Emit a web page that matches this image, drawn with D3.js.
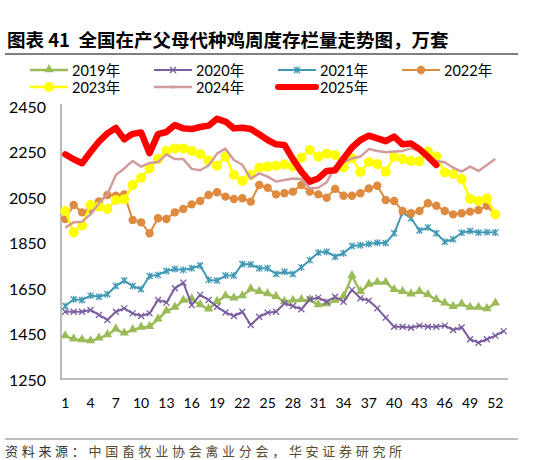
<!DOCTYPE html>
<html>
<head>
<meta charset="utf-8">
<script src="https://cdnjs.cloudflare.com/ajax/libs/d3/7.8.5/d3.min.js"></script>
<style>
  html, body { margin: 0; padding: 0; background: #fff; }
  svg { display: block; }
</style>
</head>
<body>
<svg id="chart" width="541" height="460"></svg>
<script>
// 数据 (万套), 周 1..53
const weeks = d3.range(1, 54);
const xTickLabels = [1, 4, 7, 10, 13, 16, 19, 22, 25, 28, 31, 34, 37, 40, 43, 46, 49, 52];
const yTickLabels = [1250, 1450, 1650, 1850, 2050, 2250, 2450];

const s2019 = [1443,1429,1426,1421,1433,1448,1473,1455,1470,1481,
               1484,1517,1553,1569,1599,1605,1580,1561,1594,1619,
               1609,1619,1649,1638,1628,1616,1594,1599,1602,1602,
               1580,1584,1599,1616,1707,1638,1670,1678,1678,1646,
               1638,1627,1638,1624,1602,1587,1572,1583,1568,1568,
               1562,1587];
const s2020 = [1550,1550,1550,1558,1536,1514,1550,1565,1543,1531,
               1543,1602,1590,1653,1678,1580,1624,1602,1572,1547,
               1531,1550,1492,1528,1546,1550,1587,1575,1561,1605,
               1612,1594,1616,1594,1646,1609,1599,1565,1524,1484,
               1484,1480,1489,1484,1484,1489,1470,1481,1429,1414,
               1429,1445,1465];
const s2021 = [1575,1605,1602,1621,1616,1627,1663,1687,1663,1649,
               1707,1712,1729,1738,1734,1741,1753,1690,1687,1709,
               1709,1760,1758,1741,1741,1716,1726,1716,1745,1777,
               1810,1814,1792,1807,1839,1842,1848,1853,1852,1895,
               1987,1961,1907,1920,1895,1858,1869,1897,1905,1898,
               1900,1898];
const s2022 = [1958,2019,1987,2000,2035,2063,2060,2066,1953,1943,
               1895,1961,1958,1987,2002,2022,2037,2063,2075,2056,
               2046,2049,2034,2107,2095,2066,2071,2078,2107,2078,
               2066,2051,2090,2060,2060,2071,2092,2104,2041,2037,
               1993,1983,1993,2027,2016,1993,1978,1983,1990,1997,
               2016,1975];
const s2023 = [1993,1899,1929,2019,2012,2002,2041,2044,2107,2139,
               2180,2221,2257,2268,2268,2257,2242,2215,2192,2232,
               2151,2125,2151,2183,2188,2192,2197,2188,2227,2261,
               2232,2244,2239,2184,2225,2164,2208,2199,2166,2232,
               2221,2213,2211,2254,2232,2162,2155,2134,2046,2037,
               2048,1979];
const s2024 = [1920,1943,1946,1978,2027,2066,2151,2180,2213,2188,
               2204,2208,2242,2221,2221,2178,2172,2193,2245,2267,
               2217,2196,2135,2158,2144,2122,2129,2136,2134,2092,
               2095,2119,2188,2207,2224,2232,2265,2257,2251,2254,
               2257,2268,2257,2232,2213,2207,2183,2166,2188,2169,
               2195,2221];
const s2025 = [2242,2220,2203,2252,2298,2334,2358,2308,2332,2338,
               2247,2331,2340,2371,2356,2353,2362,2368,2398,2386,
               2356,2359,2353,2330,2305,2286,2283,2221,2166,2122,
               2136,2169,2172,2224,2272,2305,2324,2312,2300,2320,
               2286,2290,2265,2232,2195];

const seriesNames = ['2019年', '2020年', '2021年', '2022年', '2023年', '2024年', '2025年'];
const seriesData = [s2019, s2020, s2021, s2022, s2023, s2024, s2025];
const seriesColors = ['#9bbb59', '#7b5e9f', '#4199b5', '#de8a3f', '#ffff00', '#d39c9c', '#ff0000'];
const seriesWidths = [2.5, 2, 2, 2, 2.5, 2.5, 6.5];
const seriesMarkers = ['triangle', 'cross', 'star', 'circle', 'bigcircle', 'none', 'none'];

const svg = d3.select('#chart');
const numFont = 'Lato, "Noto Sans CJK SC", sans-serif';

// 标题
svg.append('text')
    .attr('x', 7).attr('y', 39)
    .attr('dominant-baseline', 'central')
    .attr('font-family', '"Noto Sans CJK SC", sans-serif')
    .attr('font-weight', 'bold')
    .attr('font-size', 18.5)
    .attr('fill', '#000')
    .style('white-space', 'pre')
    .text('图表 41  全国在产父母代种鸡周度存栏量走势图，万套');
svg.append('line')
    .attr('x1', 5).attr('x2', 518).attr('y1', 54).attr('y2', 54)
    .attr('stroke', '#000').attr('stroke-width', 1);

// 比例尺
const x = d3.scaleBand().domain(weeks).range([61, 508]).padding(0);
const cx = w => x(w) + x.bandwidth() / 2;
const y = d3.scaleLinear().domain([1250, 2450]).range([380, 107]);

// 坐标轴
const gy = svg.append('g')
    .attr('transform', 'translate(61,0)')
    .call(d3.axisLeft(y).tickValues(yTickLabels).tickFormat(d3.format('d')).tickSize(0).tickPadding(15));
gy.selectAll('text').attr('font-family', numFont).attr('font-size', 16).attr('fill', '#000');
gy.select('.domain').attr('stroke', '#a6a6a6').attr('stroke-width', 1.5).attr('d', 'M0,104V380');

const gx = svg.append('g')
    .attr('transform', 'translate(0,379)')
    .call(d3.axisBottom(x).tickValues(xTickLabels).tickSize(0).tickPadding(19));
gx.selectAll('text').attr('font-family', numFont).attr('font-size', 14).attr('fill', '#000');
gx.select('.domain').attr('stroke', '#a6a6a6').attr('stroke-width', 1.5).attr('d', 'M61,0H508');

// 标记
function drawMarker(g, type, color, px, py) {
    if (type === 'triangle') {
        g.append('path')
            .attr('d', d3.symbol().type(d3.symbolTriangle).size(38)())
            .attr('transform', `translate(${px},${py - 0.5})`)
            .attr('fill', color);
    } else if (type === 'cross') {
        const s = 3;
        g.append('path')
            .attr('d', `M${px - s},${py - s}L${px + s},${py + s}M${px - s},${py + s}L${px + s},${py - s}`)
            .attr('stroke', color).attr('stroke-width', 1.3).attr('fill', 'none');
    } else if (type === 'star') {
        const s = 3;
        g.append('path')
            .attr('d', `M${px - s},${py - s}L${px + s},${py + s}M${px - s},${py + s}L${px + s},${py - s}M${px},${py - s - 0.5}L${px},${py + s + 0.5}`)
            .attr('stroke', color).attr('stroke-width', 1.3).attr('fill', 'none');
    } else if (type === 'circle') {
        g.append('circle').attr('cx', px).attr('cy', py).attr('r', 4.2).attr('fill', color);
    } else if (type === 'bigcircle') {
        g.append('circle').attr('cx', px).attr('cy', py).attr('r', 5).attr('fill', color);
    } else if (type === 'dot') {
        g.append('circle').attr('cx', px).attr('cy', py).attr('r', 1.8).attr('fill', color);
    }
}

// 折线
const line = d3.line()
    .x((d, i) => cx(weeks[i]))
    .y(d => y(d));

seriesData.forEach(function (data, k) {
    const g = svg.append('g').attr('class', 'series-' + k);
    g.append('path')
        .datum(data)
        .attr('d', line)
        .attr('fill', 'none')
        .attr('stroke', seriesColors[k])
        .attr('stroke-width', seriesWidths[k])
        .attr('stroke-linejoin', 'round')
        .attr('stroke-linecap', k === 6 ? 'round' : 'butt');
    data.forEach(function (v, i) {
        drawMarker(g, seriesMarkers[k], seriesColors[k], cx(weeks[i]), y(v));
    });
});

// 图例
const legendX = [30, 154, 278, 402];
const legendY = [70, 87];
const legendMarkers = ['triangle', 'cross', 'star', 'circle', 'bigcircle', 'dot', 'none'];
seriesNames.forEach(function (name, k) {
    const lx = legendX[k % 4], ly = legendY[Math.floor(k / 4)];
    const g = svg.append('g').attr('class', 'legend-' + k);
    g.append('line')
        .attr('x1', lx).attr('x2', lx + 38).attr('y1', ly).attr('y2', ly)
        .attr('stroke', seriesColors[k])
        .attr('stroke-width', k === 6 ? 6 : seriesWidths[k])
        .attr('stroke-linecap', k === 6 ? 'round' : 'butt');
    drawMarker(g, legendMarkers[k], seriesColors[k], lx + 19, ly);
    g.append('text')
        .attr('x', lx + 42).attr('y', ly)
        .attr('dominant-baseline', 'central')
        .attr('font-family', numFont)
        .attr('font-size', 14.5)
        .attr('fill', '#000')
        .text(name);
});

// 资料来源
svg.append('line')
    .attr('x1', 5).attr('x2', 518).attr('y1', 439).attr('y2', 439)
    .attr('stroke', '#7f7f7f').attr('stroke-width', 1);
const src = svg.append('text')
    .attr('x', 5).attr('y', 450)
    .attr('dominant-baseline', 'central')
    .attr('font-family', '"Noto Sans CJK SC", sans-serif')
    .attr('font-size', 13)
    .attr('letter-spacing', 3.7);
src.append('tspan').attr('fill', '#333').text('资料来源：');
src.append('tspan').attr('fill', '#5a4a2e').text('中国畜牧业协会禽业分会，华安证券研究所');
</script>
</body>
</html>
